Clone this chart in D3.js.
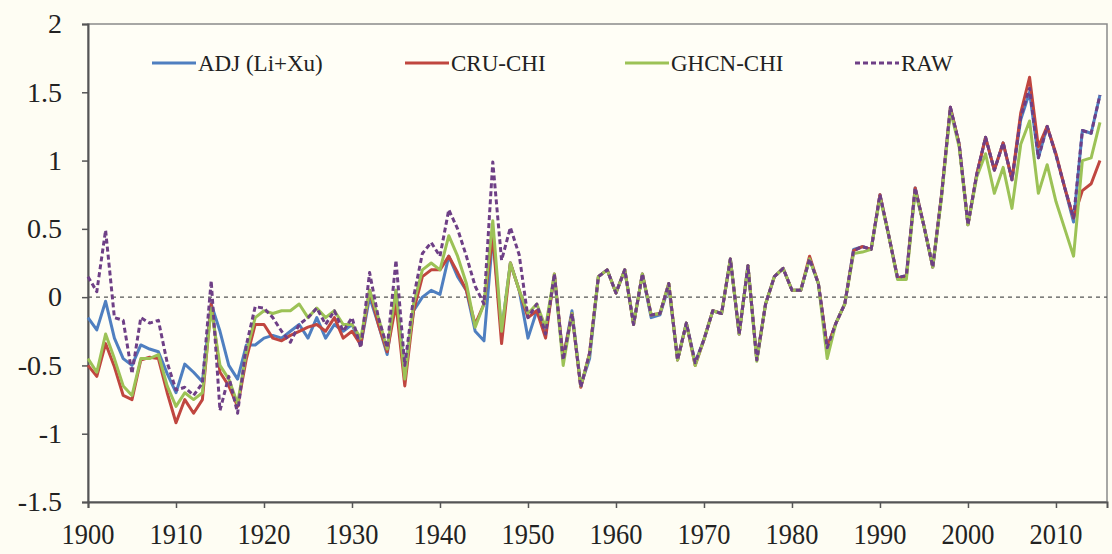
<!DOCTYPE html>
<html>
<head>
<meta charset="utf-8">
<script src="https://cdn.jsdelivr.net/npm/d3@7"></script>
<style>
	body { margin: 0; background: #fefdf3; }
	.lbl { font-family: "Liberation Serif"; }
</style>
</head>
<body>
<svg id="chart" width="1112" height="554"></svg>
<script>
// years 1900..2015
const years = d3.range(1900, 2016);

const adj = [
	-0.15, -0.24, -0.03, -0.3, -0.45, -0.5, -0.35, -0.38, -0.4, -0.56,
	-0.7, -0.49, -0.55, -0.62, -0.05, -0.25, -0.5, -0.6, -0.35, -0.35,
	-0.3, -0.28, -0.3, -0.25, -0.2, -0.3, -0.15, -0.3, -0.2, -0.25,
	-0.2, -0.35, 0.0, -0.2, -0.42, 0.05, -0.55, -0.1, 0.0, 0.05,
	0.02, 0.3, 0.15, 0.05, -0.25, -0.32, 0.45, -0.25, 0.25, 0.05,
	-0.3, -0.1, -0.25, 0.15, -0.45, -0.1, -0.65, -0.45, 0.15, 0.2,
	0.03, 0.2, -0.2, 0.17, -0.15, -0.13, 0.08, -0.46, -0.19, -0.48,
	-0.31, -0.1, -0.12, 0.28, -0.27, 0.23, -0.46, -0.05, 0.15, 0.21,
	0.05, 0.05, 0.28, 0.1, -0.37, -0.19, -0.05, 0.35, 0.37, 0.35,
	0.75, 0.45, 0.14, 0.16, 0.8, 0.52, 0.22, 0.75, 1.39, 1.12,
	0.53, 0.9, 1.17, 0.93, 1.13, 0.86, 1.3, 1.5, 1.02, 1.25,
	1.04, 0.8, 0.55, 1.22, 1.2, 1.48
];

const cru = [
	-0.5, -0.58, -0.34, -0.51, -0.72, -0.75, -0.46, -0.44, -0.45, -0.7,
	-0.92, -0.75, -0.85, -0.75, -0.05, -0.55, -0.65, -0.8, -0.45, -0.2,
	-0.2, -0.3, -0.32, -0.28, -0.25, -0.22, -0.2, -0.25, -0.15, -0.3,
	-0.25, -0.35, 0.05, -0.2, -0.4, -0.05, -0.65, -0.1, 0.15, 0.2,
	0.2, 0.3, 0.18, 0.05, -0.2, -0.05, 0.45, -0.34, 0.25, 0.05,
	-0.15, -0.1, -0.3, 0.17, -0.45, -0.12, -0.66, -0.41, 0.15, 0.2,
	0.03, 0.2, -0.2, 0.17, -0.13, -0.12, 0.1, -0.46, -0.19, -0.5,
	-0.31, -0.1, -0.12, 0.28, -0.27, 0.23, -0.46, -0.05, 0.15, 0.21,
	0.05, 0.05, 0.3, 0.1, -0.37, -0.19, -0.05, 0.34, 0.37, 0.35,
	0.75, 0.45, 0.14, 0.15, 0.8, 0.52, 0.22, 0.75, 1.39, 1.12,
	0.53, 0.9, 1.17, 0.93, 1.13, 0.86, 1.35, 1.61, 1.1, 1.25,
	1.05, 0.8, 0.58, 0.78, 0.83, 1.0
];

const ghcn = [
	-0.45, -0.55, -0.27, -0.45, -0.65, -0.72, -0.45, -0.45, -0.42, -0.65,
	-0.8, -0.7, -0.75, -0.7, -0.08, -0.5, -0.6, -0.78, -0.4, -0.15,
	-0.1, -0.12, -0.1, -0.1, -0.05, -0.15, -0.08, -0.15, -0.1, -0.2,
	-0.2, -0.3, 0.05, -0.15, -0.38, 0.05, -0.6, -0.05, 0.2, 0.25,
	0.2, 0.45, 0.3, 0.1, -0.22, -0.05, 0.56, -0.25, 0.25, 0.05,
	-0.12, -0.05, -0.22, 0.17, -0.5, -0.12, -0.65, -0.42, 0.15, 0.2,
	0.03, 0.2, -0.2, 0.17, -0.13, -0.12, 0.1, -0.46, -0.19, -0.5,
	-0.31, -0.1, -0.12, 0.28, -0.27, 0.23, -0.47, -0.05, 0.15, 0.21,
	0.05, 0.05, 0.28, 0.1, -0.45, -0.19, -0.05, 0.32, 0.33, 0.35,
	0.73, 0.45, 0.13, 0.13, 0.78, 0.52, 0.22, 0.73, 1.37, 1.1,
	0.53, 0.88, 1.05, 0.76, 0.95, 0.65, 1.12, 1.29, 0.76, 0.97,
	0.7, 0.5, 0.3, 1.0, 1.02, 1.28
];

const raw = [
	0.15, 0.04, 0.49, -0.15, -0.17, -0.56, -0.15, -0.19, -0.17, -0.48,
	-0.68, -0.66, -0.72, -0.63, 0.12, -0.83, -0.58, -0.85, -0.35, -0.07,
	-0.08, -0.15, -0.25, -0.33, -0.2, -0.15, -0.08, -0.2, -0.1, -0.25,
	-0.15, -0.37, 0.18, -0.15, -0.37, 0.27, -0.5, 0.0, 0.32, 0.4,
	0.3, 0.64, 0.5, 0.3, 0.08, -0.05, 0.99, 0.27, 0.51, 0.31,
	-0.15, -0.05, -0.27, 0.17, -0.46, -0.12, -0.66, -0.41, 0.15, 0.2,
	0.03, 0.2, -0.2, 0.17, -0.13, -0.12, 0.1, -0.46, -0.19, -0.48,
	-0.31, -0.1, -0.12, 0.28, -0.27, 0.23, -0.46, -0.05, 0.15, 0.21,
	0.05, 0.05, 0.28, 0.1, -0.37, -0.19, -0.05, 0.34, 0.37, 0.35,
	0.75, 0.45, 0.14, 0.16, 0.8, 0.52, 0.22, 0.75, 1.39, 1.12,
	0.53, 0.9, 1.17, 0.93, 1.13, 0.86, 1.32, 1.53, 1.02, 1.25,
	1.04, 0.8, 0.58, 1.22, 1.2, 1.48
];

const seriesNames = ['ADJ (Li+Xu)', 'CRU-CHI', 'GHCN-CHI', 'RAW'];
const xTicks = d3.range(1900, 2011, 10);
const yTicks = [-1.5, -1, -0.5, 0, 0.5, 1, 1.5, 2];

const W = 1112, H = 554;
const margin = { top: 24, right: 5, bottom: 52, left: 88 };

const svg = d3.select('#chart');

const x = d3.scaleLinear()
	.domain([1900, 2015.8])
	.range([margin.left, W - margin.right]);

const y = d3.scaleLinear()
	.domain([-1.5, 2])
	.range([H - margin.bottom, margin.top]);

// plot frame
svg.append('rect')
	.attr('x', x.range()[0])
	.attr('y', y.range()[1])
	.attr('width', x.range()[1] - x.range()[0])
	.attr('height', y.range()[0] - y.range()[1])
	.attr('fill', '#fffef6')
	.attr('stroke', '#8a8a8a')
	.attr('stroke-width', 1.5);

// zero line
svg.append('line')
	.attr('x1', x.range()[0])
	.attr('x2', x.range()[1])
	.attr('y1', y(0))
	.attr('y2', y(0))
	.attr('stroke', '#555')
	.attr('stroke-width', 1.3)
	.attr('stroke-dasharray', '4,4');

// Y axis: ticks only, labels drawn by hand below so the font sticks
const yAxis = svg.append('g')
	.attr('transform', `translate(${margin.left},0)`)
	.call(d3.axisLeft(y).tickValues(yTicks).tickSize(6).tickFormat(''));
yAxis.select('.domain').attr('stroke', '#555').attr('stroke-width', 2);
yAxis.selectAll('.tick line').attr('stroke', '#555').attr('stroke-width', 1.5);

svg.append('g').selectAll('text')
	.data(yTicks)
	.join('text')
	.attr('class', 'lbl')
	.attr('x', margin.left - 26)
	.attr('y', (d) => y(d))
	.attr('dy', '0.33em')
	.attr('text-anchor', 'end')
	.style('font-family', '"Liberation Serif"')
	.style('font-size', '28px')
	.attr('fill', '#222')
	.text((d) => String(d));

// X axis
const xAxis = svg.append('g')
	.attr('transform', `translate(0,${H - margin.bottom})`)
	.call(d3.axisBottom(x).tickValues(xTicks).tickSize(6).tickFormat(''));
xAxis.select('.domain').attr('stroke', '#555').attr('stroke-width', 2);
xAxis.selectAll('.tick line').attr('stroke', '#555').attr('stroke-width', 1.5);

svg.append('g').selectAll('text')
	.data(xTicks)
	.join('text')
	.attr('class', 'lbl')
	.attr('transform', (d) => `translate(${x(d)},${H - margin.bottom + 42}) scale(0.88,1)`)
	.attr('text-anchor', 'middle')
	.style('font-family', '"Liberation Serif"')
	.style('font-size', '30px')
	.attr('fill', '#222')
	.text((d) => d);

// lines
const series = [
	{ name: seriesNames[0], values: adj, color: '#4f7fc0', dash: null },
	{ name: seriesNames[1], values: cru, color: '#c0463f', dash: null },
	{ name: seriesNames[2], values: ghcn, color: '#9cc256', dash: null },
	{ name: seriesNames[3], values: raw, color: '#6e3f86', dash: '5,3' }
];

const line = d3.line()
	.x((d, i) => x(years[i]))
	.y((d) => y(d));

series.forEach(function (s) {
	svg.append('path')
		.datum(s.values)
		.attr('fill', 'none')
		.attr('stroke', s.color)
		.attr('stroke-width', 3)
		.attr('stroke-linejoin', 'round')
		.attr('stroke-dasharray', s.dash)
		.attr('d', line);
});

// legend
const legendX = [152, 405, 625, 855];
const legend = svg.append('g').attr('transform', 'translate(0,63)');
series.forEach(function (s, i) {
	const g = legend.append('g').attr('transform', `translate(${legendX[i]},0)`);
	g.append('line')
		.attr('x1', 0)
		.attr('x2', 44)
		.attr('stroke', s.color)
		.attr('stroke-width', 3)
		.attr('stroke-dasharray', s.dash);
	g.append('text')
		.attr('class', 'lbl')
		.attr('x', 46)
		.attr('dy', '0.35em')
		.style('font-family', '"Liberation Serif"')
		.style('font-size', '23px')
		.attr('fill', '#222')
		.text(s.name);
});
</script>
</body>
</html>
